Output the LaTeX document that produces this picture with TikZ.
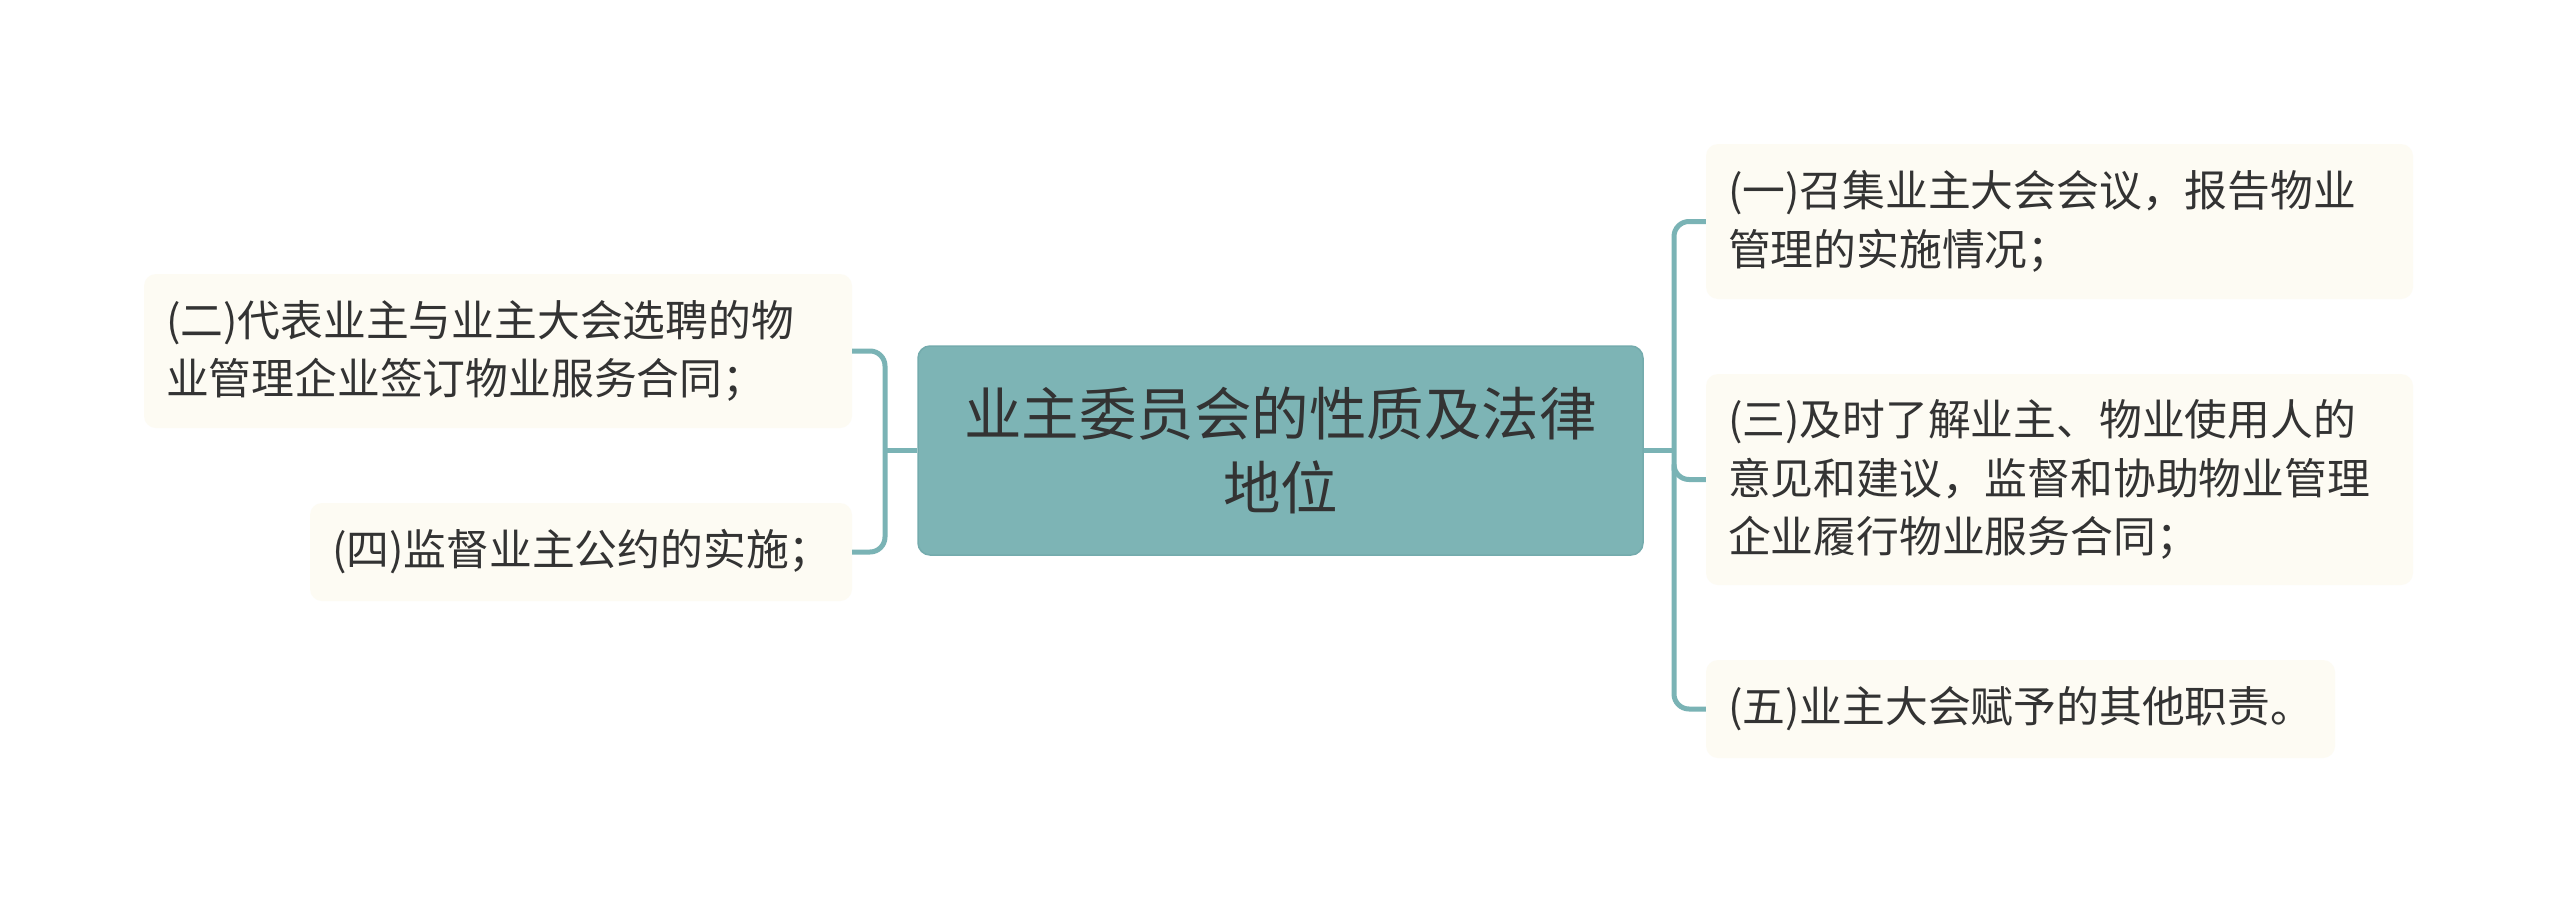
\documentclass[tikz,border=0pt]{standalone}
\usepackage{fontspec}
\newfontfamily\cjk{Noto Sans CJK SC}
\definecolor{linec}{HTML}{7AB3B5}
\definecolor{rootfill}{HTML}{7DB4B5}
\definecolor{rootdraw}{HTML}{74ABAD}
\definecolor{leaffill}{HTML}{FDFBF3}
\definecolor{txt}{HTML}{333333}
\begin{document}
\begin{tikzpicture}[x=1pt,y=-1pt,
  rootbox/.style={draw=rootdraw,line width=1.5pt,fill=rootfill,rounded corners=12pt,
    minimum width=725pt,minimum height=209pt,inner sep=0pt,text width=700pt,align=center,
    text=txt,font=\cjk\fontsize{57.5}{74}\selectfont},
  leafbox/.style={fill=leaffill,rounded corners=12pt,inner xsep=22pt,inner ysep=0pt,
    align=left,text=txt,font=\cjk\fontsize{42.8}{58.5}\selectfont},
  conn/.style={draw=linec,line width=5pt,rounded corners=15pt}]
\useasboundingbox (0,0) rectangle (2560,903);
\fill[white] (0,0) rectangle (2560,903);
\node[rootbox] (root) at (1280.5,450.5) {业主委员会的性质及法律\\地位};
\node[leafbox,text width=664pt,minimum height=154pt] (b2) at (498,351) {(二)代表业主与业主大会选聘的物\\业管理企业签订物业服务合同；};
\node[leafbox,text width=498pt,minimum height=98pt] (b4) at (581,552) {(四)监督业主公约的实施；};
\node[leafbox,text width=663pt,minimum height=155pt] (b1) at (2059.5,221.5) {(一)召集业主大会会议，报告物业\\管理的实施情况；};
\node[leafbox,text width=663pt,minimum height=211pt] (b3) at (2059.5,479.5) {(三)及时了解业主、物业使用人的\\意见和建议，监督和协助物业管理\\企业履行物业服务合同；};
\node[leafbox,text width=585pt,minimum height=98pt] (b5) at (2020.5,709) {(五)业主大会赋予的其他职责。};
\coordinate (lj) at (885,450.5);
\coordinate (rj) at (1674,450.5);
\draw[conn] (b2.east) -- (b2.east -| lj) -- (b4.east -| lj) -- (b4.east);
\draw[conn,rounded corners=0pt] (root.west) -- (lj);
\draw[conn] (b1.west) -- (b1.west -| rj) -- (b5.west -| rj) -- (b5.west);
\draw[conn,rounded corners=0pt] (root.east) -- (rj);
\draw[conn] ([yshift=-20pt]rj) -- (b3.west -| rj) -- (b3.west);
\end{tikzpicture}
\end{document}
